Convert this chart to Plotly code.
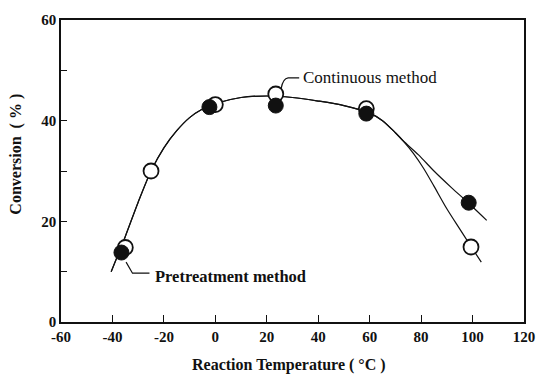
import plotly.graph_objects as go

# Data points
cont_x = [-35, -25, 0, 23.5, 58.7, 99.4]
cont_y = [14.8, 30.0, 43.2, 45.3, 42.4, 14.9]
pre_x = [-36.5, -2.3, 23.5, 58.7, 98.5]
pre_y = [13.8, 42.7, 43.0, 41.4, 23.7]

# Fitted curves
common_x = [-40.5, -35, -30, -25, -20, -15, -10, -5, 0, 10, 20, 30, 40, 50, 60, 65, 70, 73]
common_y = [10.0, 17.0, 23.8, 30.0, 34.6, 38.0, 40.6, 42.3, 43.4, 44.6, 44.9, 44.6, 43.9, 43.0, 41.5, 40.0, 37.6, 36.0]
upper_x = [79, 85, 92, 98.5, 105.5]
upper_y = [33.2, 30.0, 26.6, 23.6, 20.2]
lower_x = [77, 81, 85, 90, 95, 99.4, 103.4]
lower_y = [33.5, 30.5, 27.0, 22.5, 18.5, 15.0, 11.9]

x_ticks = [-60, -40, -20, 0, 20, 40, 60, 80, 100, 120]
y_ticks = [0, 10, 20, 30, 40, 50, 60]
y_ticktext = ["0", "", "20", "", "40", "", "60"]

FONT = "Liberation Serif"
INK = "#111111"

fig = go.Figure()
line_style = dict(color=INK, width=1.2, shape="spline", smoothing=0.8)
fig.add_trace(go.Scatter(x=common_x + upper_x, y=common_y + upper_y, mode="lines",
                         line=line_style, hoverinfo="skip", showlegend=False))
fig.add_trace(go.Scatter(x=common_x + lower_x, y=common_y + lower_y, mode="lines",
                         line=line_style, hoverinfo="skip", showlegend=False))
fig.add_trace(go.Scatter(x=cont_x, y=cont_y, mode="markers", name="Continuous method",
                         marker=dict(size=15, color="white", line=dict(color=INK, width=1.8)),
                         showlegend=False))
fig.add_trace(go.Scatter(x=pre_x, y=pre_y, mode="markers", name="Pretreatment method",
                         marker=dict(size=15, color=INK, line=dict(color=INK, width=1)),
                         showlegend=False))

# Leader lines for the labels
fig.add_shape(type="path", xref="x", yref="y",
              path="M 32.6 48.5 L 28.3 48.5 Q 26.3 48.4 25.6 46.4",
              line=dict(color=INK, width=1.2))
fig.add_shape(type="path", xref="x", yref="y",
              path="M -34.7 11.9 L -32.2 9.7 L -25.6 9.7",
              line=dict(color=INK, width=1.2))

fig.add_annotation(x=33.4, y=48.6, xref="x", yref="y", text="Continuous method",
                   showarrow=False, xanchor="left", yanchor="middle",
                   font=dict(family=FONT, size=17, color=INK))
fig.add_annotation(x=-24.2, y=9.0, xref="x", yref="y", text="Pretreatment method",
                   showarrow=False, xanchor="left", yanchor="middle",
                   font=dict(family=FONT, size=16.5, color=INK, weight="bold"))

# Axis titles
fig.add_annotation(x=(294 - 61) / (534 - 61), y=-(365 - 322) / (322 - 17), xref="paper", yref="paper",
                   text="Reaction Temperature ( °C )", showarrow=False,
                   xanchor="center", yanchor="middle",
                   font=dict(family=FONT, size=16, color=INK, weight="bold"))
fig.add_annotation(x=-46 / 473, y=(322 - 152) / 305, xref="paper", yref="paper",
                   text="Conversion  ( % )", showarrow=False, textangle=-90,
                   xanchor="center", yanchor="middle",
                   font=dict(family=FONT, size=16, color=INK, weight="bold"))

fig.update_xaxes(range=[-60, 120], tickvals=x_ticks, ticktext=[str(v) for v in x_ticks],
                 ticks="inside", ticklen=7, tickwidth=1.3,
                 tickcolor=INK, showline=True, linecolor=INK, linewidth=1.5, mirror=True,
                 showgrid=False, zeroline=False,
                 tickfont=dict(family=FONT, size=15, color=INK, weight="bold"))
fig.update_yaxes(range=[0, 60], tickvals=y_ticks, ticktext=y_ticktext,
                 ticks="inside", ticklen=6, tickwidth=1.3, tickcolor=INK,
                 showline=True, linecolor=INK, linewidth=1.5, mirror=True,
                 showgrid=False, zeroline=False,
                 tickfont=dict(family=FONT, size=15, color=INK, weight="bold"))

fig.update_layout(width=547, height=375, margin=dict(l=61, r=13, t=17, b=53),
                  plot_bgcolor="white", paper_bgcolor="white", showlegend=False)

fig.write_html("out.html")
